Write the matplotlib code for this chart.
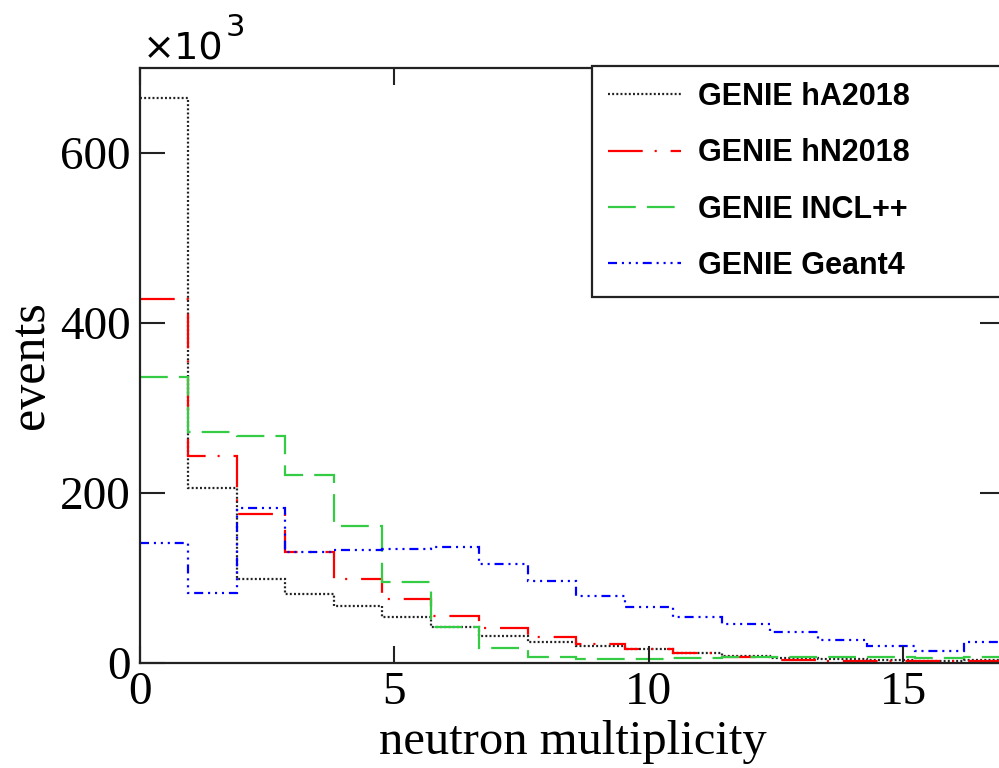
import numpy as np
import matplotlib
matplotlib.use("Agg")
import matplotlib.pyplot as plt

# histogram: 21 bins over [0, 20], only the first 18 bins fall inside the shown range
n_bins = 21
x_range = (0, 20)
n_shown = 18

# bin contents in thousands of events
hA2018 = [665, 206, 98, 80.5, 66.7, 53.4, 42, 31.4, 24, 19.4, 15.7, 11.8, 7.9, 5.5, 4, 3.6, 2.5, 3]
hN2018 = [428, 243, 174.6, 130.6, 98.8, 75.3, 55.3, 40.4, 29.8, 22, 16, 11, 6.3, 3.5, 2.2, 2.5, 1.5, 1.5]
incl = [336, 272, 267, 221, 161, 95, 42.4, 17.6, 7, 4.5, 4.3, 5, 6.3, 7, 7, 6.6, 5.5, 6.6]
geant4 = [141, 81.6, 182.4, 130.6, 133, 134, 136, 116, 96, 78.5, 65, 54, 45, 36.5, 27, 19.6, 14, 24.7]

labels = ["GENIE hA2018", "GENIE hN2018", "GENIE INCL++", "GENIE Geant4"]
x_ticks = [0, 5, 10, 15]
y_ticks = [0, 200, 400, 600]

plt.rcParams['lines.scale_dashes'] = False

edges = np.linspace(x_range[0], x_range[1], n_bins + 1)[:n_shown + 1]

fig = plt.figure(figsize=(9.99, 7.68), dpi=100)
ax = fig.add_axes([140 / 999, 1 - 662.7 / 768, 865 / 999, (662.7 - 68) / 768])

styles = [
    dict(color="#222222", linestyle=(0, (1.4, 1.6))),
    dict(color="#ff0000", linestyle=(0, (25, 8.6, 1.5, 10))),
    dict(color="#33cc44", linestyle=(0, (20, 8))),
    dict(color="#0000ff", linestyle=(0, (6.5, 3.5, 1.5, 3.5, 1.5, 3.5, 1.5, 3.5))),
]
series = [hA2018, hN2018, incl, geant4]

handles = []
for vals, st, lab in zip(series, styles, labels):
    ax.stairs(vals, edges, baseline=None, linewidth=1.6, label=lab, **st)
    h, = ax.plot([], [], linewidth=1.6, label=lab, **st)
    handles.append(h)

ax.set_xlim(0, 17)
ax.set_ylim(0, 700)
ax.set_xticks(x_ticks)
ax.set_yticks(y_ticks)
ax.minorticks_off()

serif = "Liberation Serif"
ax.tick_params(axis="both", direction="in", top=True, right=True, width=1.5, colors="#222222",
               labelcolor="black", labelsize=34)
ax.tick_params(axis="y", length=18, pad=7)
ax.tick_params(axis="x", length=12, pad=6)
for lbl in ax.get_xticklabels() + ax.get_yticklabels():
    lbl.set_fontfamily(serif)
for sp in ax.spines.values():
    sp.set_linewidth(1.6)
    sp.set_color("#222222")

ax.set_xlabel("neutron multiplicity", fontfamily=serif, fontsize=35, labelpad=5)
ax.set_ylabel("events", fontfamily=serif, fontsize=36, labelpad=4)

fig.text(143 / 999, 1 - 60 / 768, "\u00d710", fontfamily="DejaVu Sans", fontsize=27.5,
         ha="left", va="baseline")
fig.text(226 / 999, 1 - 36 / 768, "3", fontfamily="DejaVu Sans", fontsize=22,
         ha="left", va="baseline")

leg = ax.legend(handles=handles, loc="upper left", mode="expand",
                bbox_to_anchor=(592 / 999, 1 - 67 / 768, 0.45, 0.001),
                bbox_transform=fig.transFigure, borderaxespad=0,
                prop=dict(family="Liberation Sans", weight="bold", size=22),
                handlelength=2.4, handletextpad=0.55, borderpad=0.52, labelspacing=0.86,
                fancybox=False, framealpha=1)
leg.get_frame().set_edgecolor("#222222")
leg.get_frame().set_linewidth(1.6)

fig.savefig("out.png", dpi=100)
